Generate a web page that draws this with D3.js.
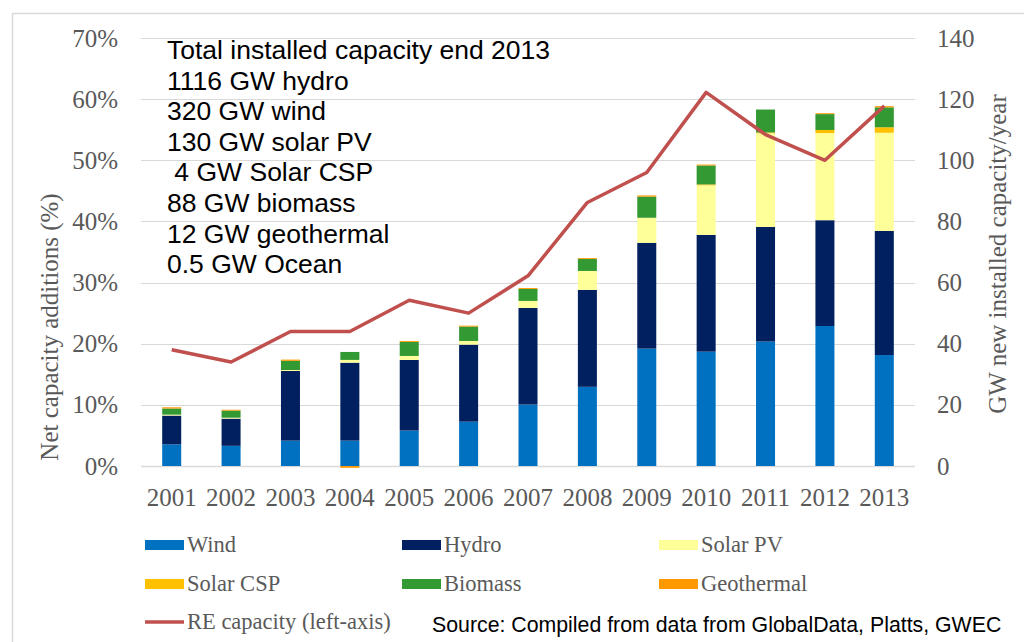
<!DOCTYPE html>
<html>
<head>
<meta charset="utf-8">
<script src="https://cdn.jsdelivr.net/npm/d3@7"></script>
<style>
  body { margin: 0; background: #fff; }
  svg { display: block; }
</style>
</head>
<body>
<script>
// data (GW per year, share in %)
const years = ["2001","2002","2003","2004","2005","2006","2007","2008","2009","2010","2011","2012","2013"]
const wind = [7.1, 6.6, 8.3, 8.3, 11.6, 14.5, 20.1, 25.9, 38.4, 37.4, 40.7, 45.8, 36.3]
const hydro = [9.4, 8.9, 22.8, 25.5, 23.1, 25.2, 31.6, 31.7, 34.6, 38.2, 37.5, 34.6, 40.6]
const solarPV = [0.3, 0.3, 0.3, 0.9, 1.3, 1.2, 2.3, 6.2, 8.2, 16.2, 30.6, 28.5, 32.1]
const solarCSP = [0, 0, 0, 0, 0, 0, 0, 0, 0, 0.3, 0.3, 1.0, 1.8]
const biomass = [2.0, 2.3, 3.0, 2.6, 4.6, 4.7, 3.9, 3.9, 6.9, 6.2, 7.5, 5.2, 6.5]
const geothermal = [0.4, 0.3, 0.4, -0.6, 0.3, 0.3, 0.3, 0.3, 0.4, 0.3, 0, 0.3, 0.4]
const reShare = [19.0, 17.0, 22.0, 22.0, 27.1, 25.0, 31.1, 43.1, 48.0, 61.1, 54.2, 50.0, 58.9]
const leftTicks = [0, 10, 20, 30, 40, 50, 60, 70]
const rightTicks = [0, 20, 40, 60, 80, 100, 120, 140]
const noteLines = ["Total installed capacity end 2013", "1116 GW hydro", "320 GW wind", "130 GW solar PV",
  " 4 GW Solar CSP", "88 GW biomass", "12 GW geothermal", "0.5 GW Ocean"]

const seriesNames = ["Wind", "Hydro", "Solar PV", "Solar CSP", "Biomass", "Geothermal"]
const seriesData = [wind, hydro, solarPV, solarCSP, biomass, geothermal]
const colors = ["#0070c0", "#002060", "#ffff99", "#ffc000", "#339933", "#ff9900"]
const lineColor = "#c0504d"

const W = 1024, H = 642
const svg = d3.select("body").append("svg").attr("width", W).attr("height", H)

// outer frame
svg.append("rect").attr("x", 12.5).attr("y", 13.5).attr("width", 1020).attr("height", 640)
  .attr("fill", "none").attr("stroke", "#d9d9d9").attr("stroke-width", 1.5)

const x = d3.scaleBand().domain(years).range([142, 914]).paddingInner(0.68).paddingOuter(0.34)
const yGW = d3.scaleLinear().domain([0, 140]).range([466, 38])
const yPct = d3.scaleLinear().domain([0, 70]).range([466, 38])

// gridlines
svg.append("g").selectAll("line").data(leftTicks).join("line")
  .attr("x1", 141).attr("x2", 915)
  .attr("y1", d => Math.round(yPct(d)) + 0.5).attr("y2", d => Math.round(yPct(d)) + 0.5)
  .attr("stroke", "#d9d9d9").attr("stroke-width", d => d === 0 ? 1.5 : 1)

// stacked bars
const table = years.map((yr, i) => {
  const row = { year: yr }
  seriesNames.forEach((s, j) => row[s] = seriesData[j][i])
  return row
})
const stacked = d3.stack().keys(seriesNames).offset(d3.stackOffsetDiverging)(table)

svg.append("g").selectAll("g").data(stacked).join("g")
  .attr("fill", (d, i) => colors[i])
  .selectAll("rect").data(d => d).join("rect")
  .attr("x", d => x(d.data.year))
  .attr("width", x.bandwidth())
  .attr("y", d => yGW(Math.max(d[0], d[1])))
  .attr("height", d => Math.abs(yGW(d[0]) - yGW(d[1])))

// RE share line
const line = d3.line().x((d, i) => x(years[i]) + x.bandwidth() / 2).y(d => yPct(d))
svg.append("path").datum(reShare).attr("d", line)
  .attr("fill", "none").attr("stroke", lineColor).attr("stroke-width", 3.5)
  .attr("stroke-linejoin", "round")

// axes
const tickFont = "'Liberation Serif', 'Times New Roman', serif"
const leftAxis = d3.axisLeft(yPct).tickValues(leftTicks).tickFormat(d => d + "%").tickSize(0).tickPadding(0)
const gl = svg.append("g").attr("transform", "translate(118,0)").call(leftAxis)
const rightAxis = d3.axisRight(yGW).tickValues(rightTicks).tickSize(0).tickPadding(0)
const gr = svg.append("g").attr("transform", "translate(937,0)").call(rightAxis)
const bottomAxis = d3.axisBottom(x).tickSize(0).tickPadding(0)
const gb = svg.append("g").attr("transform", "translate(0,488)").call(bottomAxis)
for (const g of [gl, gr, gb]) {
  g.select(".domain").remove()
  g.selectAll("text").attr("font-family", tickFont).attr("font-size", 25).attr("fill", "#595959")
}
gb.selectAll("text").attr("dy", "0.71em")

svg.append("text").attr("transform", "translate(58,327) rotate(-90)")
  .attr("text-anchor", "middle").attr("font-family", tickFont).attr("font-size", 25).attr("fill", "#595959")
  .text("Net capacity additions (%)")
svg.append("text").attr("transform", "translate(1006,254) rotate(-90)")
  .attr("text-anchor", "middle").attr("font-family", tickFont).attr("font-size", 25).attr("fill", "#595959")
  .text("GW new installed capacity/year")

// note in top left
svg.append("g").selectAll("text").data(noteLines).join("text")
  .attr("x", 167).attr("y", (d, i) => 59 + i * 30.6)
  .attr("font-family", "'Liberation Sans', Arial, sans-serif").attr("font-size", 26.5).attr("fill", "#000")
  .attr("xml:space", "preserve").style("white-space", "pre")
  .text(d => d)

// legend
const legendX = [145, 402, 659]
const legendY = [545, 584, 622]
const lg = svg.append("g")
seriesNames.forEach((s, i) => {
  const lx = legendX[i % 3], ly = legendY[Math.floor(i / 3)]
  lg.append("rect").attr("x", lx).attr("y", ly - 5).attr("width", 39).attr("height", 10).attr("fill", colors[i])
  lg.append("text").attr("x", lx + 42).attr("y", ly + 7)
    .attr("font-family", tickFont).attr("font-size", 22.5).attr("fill", "#595959").text(s)
})
lg.append("line").attr("x1", 145).attr("x2", 184).attr("y1", legendY[2]).attr("y2", legendY[2])
  .attr("stroke", lineColor).attr("stroke-width", 3.5)
lg.append("text").attr("x", 187).attr("y", legendY[2] + 7)
  .attr("font-family", tickFont).attr("font-size", 22.5).attr("fill", "#595959").text("RE capacity (left-axis)")

svg.append("text").attr("x", 432).attr("y", 632)
  .attr("font-family", "'Liberation Sans', Arial, sans-serif").attr("font-size", 21.3).attr("fill", "#000")
  .text("Source: Compiled from data from GlobalData, Platts, GWEC")
</script>
</body>
</html>
